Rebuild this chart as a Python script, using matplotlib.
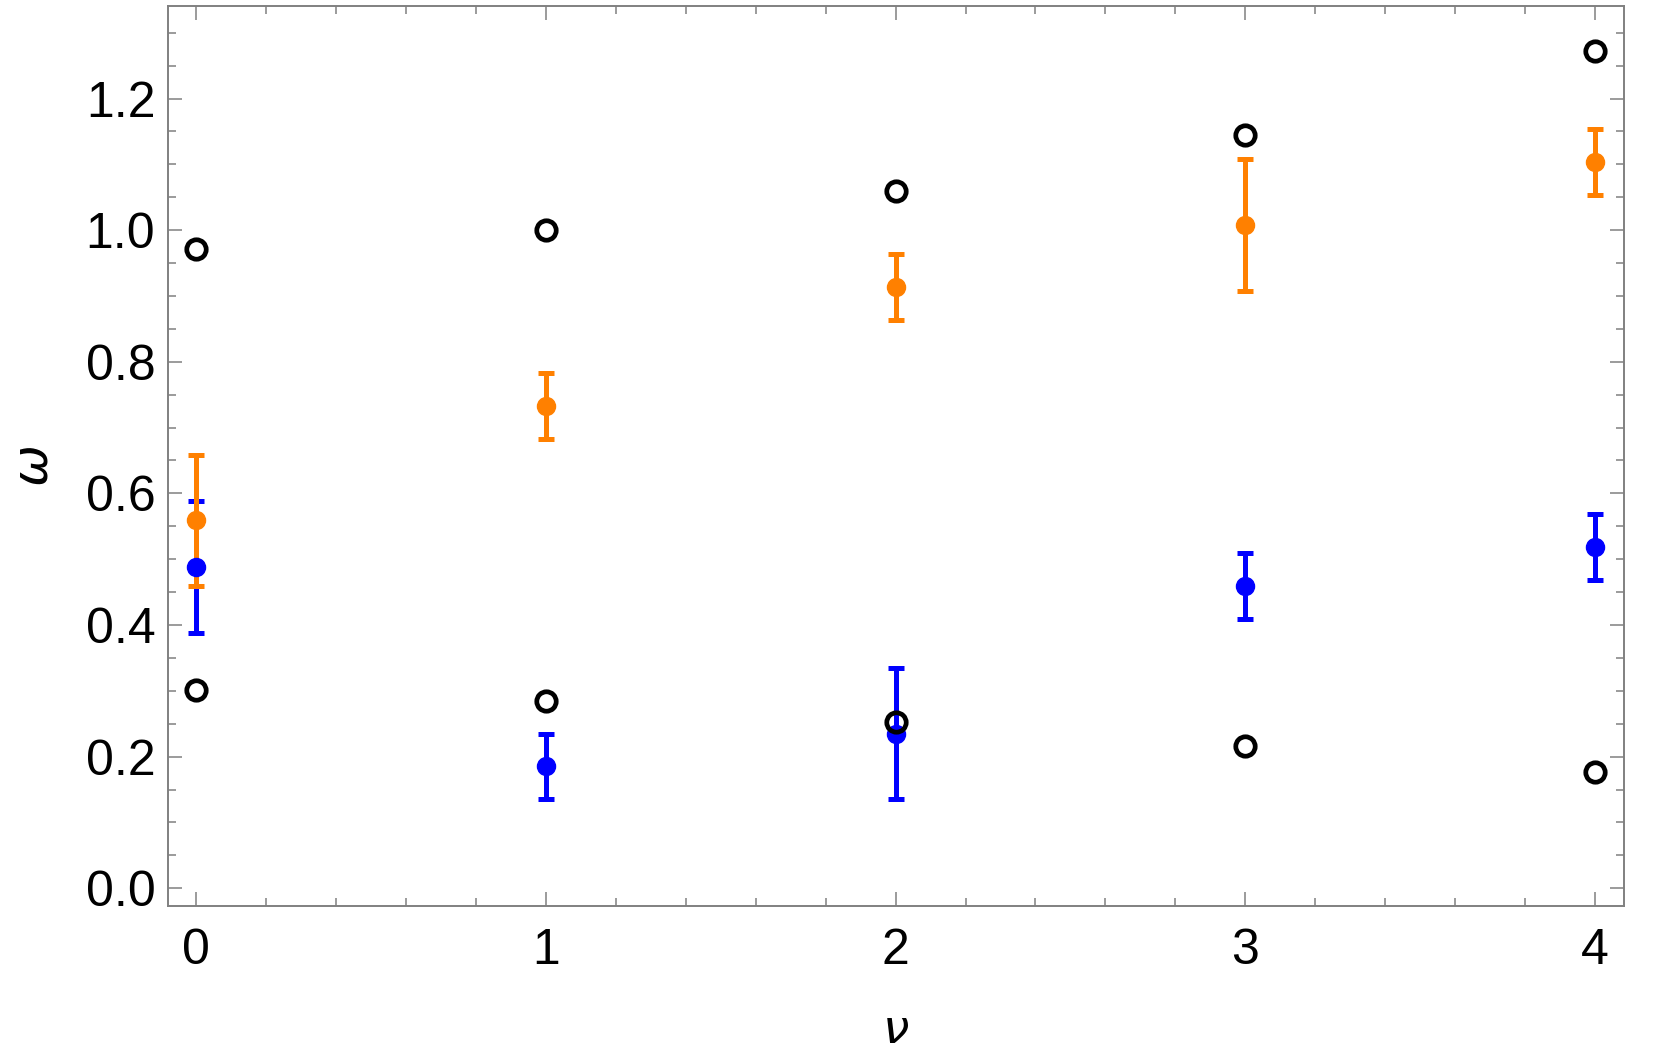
import numpy as np
import matplotlib
matplotlib.use("Agg")
import matplotlib.pyplot as plt
from matplotlib.ticker import MultipleLocator, FormatStrFormatter

# values
nu = [0, 1, 2, 3, 4]

# open black circles (two branches)
black_upper = [0.971, 1.000, 1.060, 1.145, 1.272]
black_lower = [0.301, 0.285, 0.253, 0.216, 0.177]

# orange points with error bars
orange_y = [0.559, 0.733, 0.913, 1.008, 1.103]
orange_err = [0.10, 0.05, 0.05, 0.10, 0.05]

# blue points with error bars
blue_y = [0.488, 0.185, 0.235, 0.459, 0.519]
blue_err = [0.10, 0.05, 0.10, 0.05, 0.05]

plt.rcParams['font.family'] = ['Liberation Sans', 'DejaVu Sans']

fig = plt.figure(figsize=(16.61, 10.64), dpi=100)
ax = fig.add_axes([0.101, 0.1485, 0.877, 0.8455])

eb = dict(fmt='o', markersize=13, elinewidth=3.6, capsize=6, capthick=3.6, zorder=3)
ax.errorbar(nu, blue_y, yerr=blue_err, color='#0000FF', **eb)
ax.errorbar(nu, orange_y, yerr=orange_err, color='#FF8000', **eb)

ax.plot(nu, black_upper, 'o', mfc='none', mec='black', ms=14, mew=3.4, zorder=4)
ax.plot(nu, black_lower, 'o', mfc='none', mec='black', ms=14, mew=3.4, zorder=4)

ax.set_xlim(-0.082, 4.085)
ax.set_ylim(-0.027, 1.34)

ax.xaxis.set_major_locator(MultipleLocator(1))
ax.xaxis.set_minor_locator(MultipleLocator(0.2))
ax.yaxis.set_major_locator(MultipleLocator(0.2))
ax.yaxis.set_minor_locator(MultipleLocator(0.05))
ax.yaxis.set_major_formatter(FormatStrFormatter('%.1f'))

gray = '#808080'
for s in ax.spines.values():
    s.set_color(gray)
    s.set_linewidth(1.4)

ax.tick_params(which='both', direction='in', top=True, right=True,
               color=gray, width=1.1, labelsize=36, labelcolor='black')
ax.tick_params(which='major', length=10)
ax.tick_params(which='minor', length=5.8)
ax.tick_params(axis='x', which='major', pad=16)
ax.tick_params(axis='y', which='major', pad=9)

ax.set_xlabel('ν', fontsize=34, fontstyle='italic', family=['DejaVu Sans'])
ax.set_ylabel('ω', fontsize=36, fontstyle='italic', family=['DejaVu Sans'])
ax.xaxis.set_label_coords(0.5, -0.113)
ax.yaxis.set_label_coords(-0.076, 0.49)

fig.savefig('out.png', dpi=100)
